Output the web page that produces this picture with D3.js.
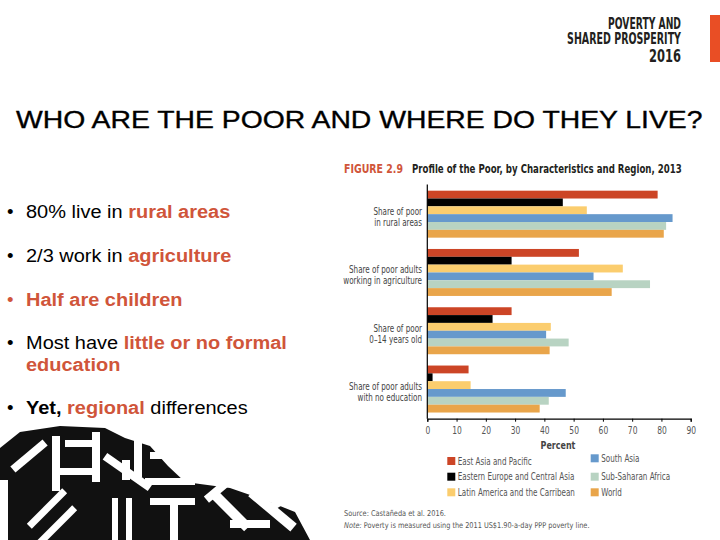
<!DOCTYPE html>
<html><head><meta charset="utf-8">
<script src="https://cdn.jsdelivr.net/npm/d3@7"></script>
<style>
html,body{margin:0;padding:0;background:#fff;}
svg{display:block;}
</style></head>
<body>
<svg id="chart" width="720" height="540"></svg>
<script>
const categories = [
  ["Share of poor", "in rural areas"],
  ["Share of poor adults", "working in agriculture"],
  ["Share of poor", "0–14 years old"],
  ["Share of poor adults", "with no education"]
];
const regions = ["East Asia and Pacific","Eastern Europe and Central Asia","Latin America and the Carribean","South Asia","Sub-Saharan Africa","World"];
const colors = ["#cc4526","#000000","#fbcd6e","#6699cc","#b8d3c2","#e9a54a"];
const eastAsiaPacific = [78.7, 51.8, 28.8, 14.1];
const europeCentralAsia = [46.3, 28.8, 22.3, 1.8];
const latinAmerica = [54.5, 66.8, 42.2, 14.8];
const southAsia = [83.8, 56.8, 40.6, 47.3];
const subSaharanAfrica = [81.6, 76.1, 48.3, 41.5];
const world = [80.8, 63.0, 41.8, 38.4];
const xTicks = [0,10,20,30,40,50,60,70,80,90];
const series = [eastAsiaPacific, europeCentralAsia, latinAmerica, southAsia, subSaharanAfrica, world];

const svg = d3.select("#chart");
const orange = "#d0553a";
const FIG = "DejaVu Sans, sans-serif";
const SX = 0.72; // horizontal condensing of figure text

function ctext(parent, x, y, str, opts={}) {
  return parent.append("text")
    .attr("transform", `translate(${x},${y}) scale(${opts.sx ?? SX},1)`)
    .attr("font-family", opts.family || FIG)
    .attr("font-size", opts.size || 10)
    .attr("fill", opts.fill || "#555")
    .attr("font-weight", opts.weight || "normal")
    .attr("text-anchor", opts.anchor || "start")
    .text(str);
}
// text scaled horizontally to a target width (measured, then transformed)
function fitText(parent, x, y, str, width, opts={}, build) {
  const t = parent.append("text").attr("x",0).attr("y",0)
    .attr("font-family", opts.family || FIG).attr("font-size", opts.size || 10)
    .attr("font-weight", opts.weight || "normal").attr("fill", opts.fill || "#000")
    .attr("text-anchor", opts.anchor || "start");
  if (build) build(t); else t.text(str);
  const w = t.node().getComputedTextLength() || width;
  t.attr("transform", `translate(${x},${y}) scale(${width / w},1)`);
  return t;
}

// Header block top right
fitText(svg, 681, 29, "POVERTY AND", 73, {size:15, weight:"bold", fill:"#231f20", anchor:"end"});
fitText(svg, 681, 44, "SHARED PROSPERITY", 114, {size:15, weight:"bold", fill:"#231f20", anchor:"end"});
fitText(svg, 681, 62, "2016", 32, {size:17, weight:"bold", fill:"#231f20", anchor:"end"});
svg.append("rect").attr("x",710).attr("y",15).attr("width",10).attr("height",47).attr("fill","#e94e25");

// Title
fitText(svg, 16, 128, "WHO ARE THE POOR AND WHERE DO THEY LIVE?", 687,
  {family:"Liberation Sans, Arial, sans-serif", size:24, fill:"#000"})
  .attr("stroke","#000").attr("stroke-width",0.35);

// Bullets
const bullets = [
  {y:218, parts:[["80% live in ","#000","normal"],["rural areas",orange,"bold"]], bc:"#000"},
  {y:262, parts:[["2/3 work in ","#000","normal"],["agriculture",orange,"bold"]], bc:"#000"},
  {y:306, parts:[["Half are children",orange,"bold"]], bc:orange},
  {y:349, parts:[["Most have ","#000","normal"],["little or no formal",orange,"bold"]], bc:"#000"},
  {y:371, parts:[["education",orange,"bold"]], bc:null},
  {y:414, parts:[["Yet, ","#000","bold"],["regional",orange,"bold"],[" differences","#000","normal"]], bc:"#000"}
];
const bg = svg.append("g").attr("font-family","Liberation Sans, Arial, sans-serif").attr("font-size",18.5);
bullets.forEach(b=>{
  if(b.bc) bg.append("text").attr("x",7).attr("y",b.y).attr("fill",b.bc).text("•");
  const t = bg.append("text").attr("transform",`translate(26,${b.y}) scale(1.08,1)`).attr("xml:space","preserve");
  b.parts.forEach(p=>t.append("tspan").attr("fill",p[1]).attr("font-weight",p[2]).text(p[0]));
});

// Figure title
fitText(svg, 344, 173, "FIGURE 2.9", 59, {size:11.5, weight:"bold", fill:"#d0553a"});
fitText(svg, 412, 173, "Profile of the Poor, by Characteristics and Region, 2013", 270, {size:11.5, weight:"bold", fill:"#231f20"});

// Chart
const x = d3.scaleLinear().domain([0,90]).range([427.3,690.7]);
const y0 = d3.scaleBand().domain(d3.range(categories.length)).range([184.5,418.7]).paddingInner(0.194).paddingOuter(0.106);
const y1 = d3.scaleBand().domain(d3.range(regions.length)).range([0,y0.bandwidth()]);

const g = svg.append("g");
categories.forEach((c,ci)=>{
  const gg = g.append("g").attr("transform",`translate(0,${y0(ci)})`);
  gg.selectAll("rect").data(series.map((s,ri)=>({v:s[ci],ri}))).join("rect")
    .attr("x",x(0)).attr("y",d=>y1(d.ri)).attr("height",y1.bandwidth())
    .attr("width",d=>x(d.v)-x(0)).attr("fill",d=>colors[d.ri]);
  const cy = y0(ci)+y0.bandwidth()/2;
  ctext(g, 422, cy+1, c[0], {anchor:"end", fill:"#444"});
  ctext(g, 422, cy+12, c[1], {anchor:"end", fill:"#444"});
});

// Axes
const xAxis = d3.axisBottom(x).tickValues(xTicks).tickSize(3).tickFormat(d3.format("d"));
const ax = svg.append("g").attr("transform","translate(0,418.7)").call(xAxis);
ax.select(".domain").attr("stroke","#000").attr("stroke-width",1.2);
ax.selectAll(".tick line").attr("stroke","#000");
ax.selectAll(".tick text").attr("font-family",FIG).attr("font-size",10.5).attr("fill","#555").attr("dy","0.9em")
  .attr("transform",`scale(${SX},1)`);
svg.append("line").attr("x1",x(0)).attr("x2",x(0)).attr("y1",184.5).attr("y2",418.7).attr("stroke","#000").attr("stroke-width",1.2);
ctext(svg, 558, 448.5, "Percent", {anchor:"middle", weight:"bold", fill:"#444", sx:0.8});

// Legend
const legPos = [[447.3,461],[447.3,476.7],[447.3,492.3],[590.7,458.3],[590.7,476.7],[590.7,492.3]];
regions.forEach((r,i)=>{
  const lg = svg.append("g").attr("transform",`translate(${legPos[i][0]},${legPos[i][1]})`);
  lg.append("rect").attr("x",0).attr("y",-4).attr("width",8).attr("height",8).attr("fill",colors[i]);
  ctext(lg, 10.5, 3.5, r, {fill:"#555"});
});

// Source / note
fitText(svg, 344, 515.5, "Source: Castañeda et al. 2016.", 102, {size:8, fill:"#555"});
fitText(svg, 344, 527.5, "", 246, {size:8, fill:"#555"}, t=>{
  t.append("tspan").attr("font-style","italic").text("Note: ");
  t.append("tspan").text("Poverty is measured using the 2011 US$1.90-a-day PPP poverty line.");
});

// Decorative graphic bottom-left
const deco = svg.append("g");
deco.append("path").attr("d","M0,448 L20,432 L60,426 L105,428 L125,438 L150,446 L168,466 L185,482 L230,488 L265,500 L295,512 L310,540 L0,540 Z").attr("fill","#111");
const whites = [
  [8,452,42,8,-40],[22,505,50,7,-45],[32,522,50,7,-45],[52,436,8,55,0],[65,440,30,7,0],
  [92,432,8,50,0],[100,468,55,8,35],[134,432,8,45,0],[112,498,6,42,0],[126,498,6,42,0],
  [145,478,50,7,0],[150,498,45,7,0],[170,500,8,40,0],[200,478,55,8,-40],[205,505,50,10,45],
  [245,505,55,10,40],[265,495,40,8,-30],[0,480,8,60,0],[55,468,40,7,0],[230,520,40,8,0],
  [150,452,30,7,0],[122,460,8,20,0]
];
whites.forEach(w=>{
  deco.append("rect").attr("x",w[0]).attr("y",w[1]).attr("width",w[2]).attr("height",w[3])
    .attr("fill","#fff").attr("transform",`rotate(${w[4]},${w[0]+w[2]/2},${w[1]+w[3]/2})`);
});
</script>
</body></html>
